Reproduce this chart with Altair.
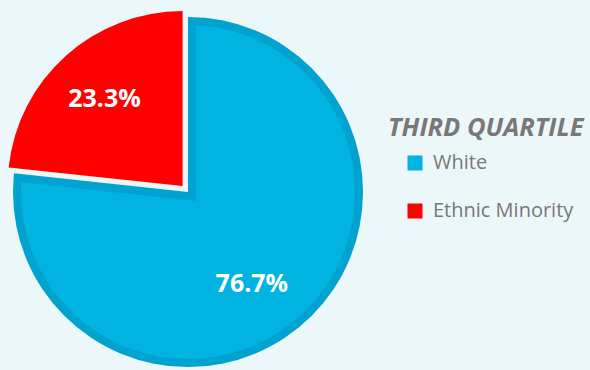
import math
import altair as alt
import pandas as pd

# ---- data ----
categories = ["White", "Ethnic Minority"]
shares = [76.7, 23.3]
share_labels = ["76.7%", "23.3%"]
slice_colors = ["#00b3e1", "#ff0000"]
legend_title = "THIRD QUARTILE"

# ---- styling / layout ----
BG = "#ecf7fa"
EDGE = "#00a2cf"
GREY = "#787878"
FONT = "Open Sans"
CX, CY, R = 188, 192, 175
EXPLODE = 8

# offset of the exploded (last) slice along its bisector
mid_last = (1 - shares[-1] / 200.0) * 2 * math.pi
RX = CX + EXPLODE * math.sin(mid_last)
RY = CY - EXPLODE * math.cos(mid_last)

df = pd.DataFrame({"group": categories, "share": shares, "label": share_labels})

base = (
    alt.Chart(df)
    .transform_window(cum="sum(share)", frame=[None, 0])
    .transform_calculate(start="datum.cum - datum.share",
                         mid="datum.cum - datum.share / 2")
)

theta_scale = alt.Scale(domain=[0, 100], range=[0, 2 * math.pi])
theta = alt.Theta("start:Q", scale=theta_scale, stack=False)
theta2 = alt.Theta2("cum:Q")
theta_mid = alt.Theta("mid:Q", scale=theta_scale, stack=False)

color = alt.Color(
    "group:N",
    scale=alt.Scale(domain=categories, range=slice_colors),
    legend=alt.Legend(
        title=None, orient="none", direction="vertical",
        legendX=405, legendY=153, padding=0,
        symbolType="square", symbolSize=225, symbolStrokeWidth=0,
        labelFont=FONT, labelFontSize=20, labelColor=GREY,
        labelOffset=8, rowPadding=28,
    ),
)

white = base.transform_filter(alt.datum.group == categories[0])
minority = base.transform_filter(alt.datum.group == categories[1])

blue = white.mark_arc(
    outerRadius=R, stroke=EDGE, strokeWidth=16, strokeJoin="miter", x=CX, y=CY
).encode(theta=theta, theta2=theta2, color=color)

# hide the outer half of the border so it sits inside the slice
cover_ring = white.mark_arc(
    innerRadius=R, outerRadius=R + 16, x=CX, y=CY, color=BG
).encode(theta=alt.value(0), theta2=alt.value(2 * math.pi))

cover_wedge = minority.mark_arc(
    outerRadius=R + 16, x=CX, y=CY, color=BG
).encode(theta=theta, theta2=theta2)

red = minority.mark_arc(outerRadius=R, x=RX, y=RY).encode(
    theta=theta, theta2=theta2, color=color
)

text_style = dict(font=FONT, fontSize=25, fontWeight="bold", color="white",
                  align="center", baseline="middle")

blue_lbl = white.mark_text(x=CX, y=CY, radius=112, dx=-11, dy=9, **text_style).encode(
    theta=theta_mid, text="label:N"
)
red_lbl = minority.mark_text(x=RX, y=RY, radius=117, **text_style).encode(
    theta=theta_mid, text="label:N"
)

title = alt.Chart(pd.DataFrame({"t": [legend_title]})).mark_text(
    x=388, y=128, align="left", baseline="middle", font=FONT,
    fontSize=25.5, fontWeight="bold", fontStyle="italic", color=GREY
).encode(text="t:N")

chart = (
    alt.layer(blue, cover_ring, cover_wedge, red, blue_lbl, red_lbl, title)
    .properties(width=590, height=370, padding=0, autosize="none", background=BG)
    .configure_view(strokeWidth=0)
)

chart.save("out.html", embed_options={"renderer": "svg", "actions": False})
